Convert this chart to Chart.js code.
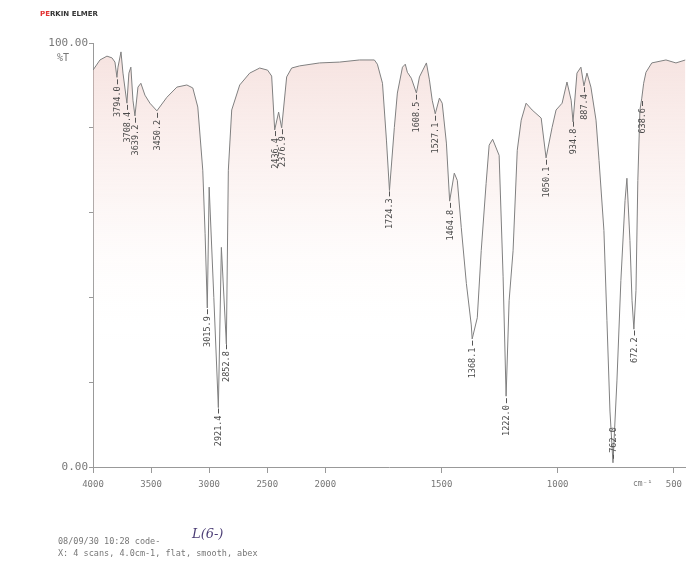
<!DOCTYPE html>
<html lang="en">
<head>
  <meta charset="UTF-8">
  <title>IR spectrum</title>
  <style>
    body { margin: 0; background: #fff; }
    #spec { display: block; }
  </style>
  <script src="https://cdn.jsdelivr.net/npm/chart.js"></script>
</head>
<body>
<canvas id="spec" width="688" height="562"></canvas>
<script>
  // spectrum: wavenumber (cm-1) and %T
  const wavenumbers = [
    4000, 3940, 3880, 3837, 3811, 3794, 3785, 3759, 3742, 3708, 3691, 3674, 3656, 3639,
    3613, 3588, 3553, 3510, 3450, 3364, 3278, 3192, 3141, 3098, 3055, 3035, 3016, 3000,
    2960, 2921, 2895, 2852, 2835, 2806, 2737, 2651, 2565, 2497, 2462, 2436, 2402, 2376,
    2333, 2290, 2222, 2050, 1939, 1853, 1789, 1776, 1754, 1737, 1724, 1703, 1690, 1668,
    1656, 1647, 1630, 1608, 1595, 1565, 1552, 1540, 1527, 1509, 1497, 1479, 1465, 1445,
    1432, 1415, 1393, 1372, 1368, 1346, 1329, 1308, 1295, 1280, 1252, 1235, 1222, 1209,
    1192, 1174, 1157, 1136, 1110, 1071, 1050, 1024, 1007, 981, 960, 942, 934, 917,
    900, 887, 874, 857, 835, 822, 801, 788, 775, 762, 745, 728, 710, 702,
    689, 680, 672, 663, 655, 646, 638, 630, 620, 595, 534, 491, 450
  ];
  const transmittance = [
    93.6, 96.0, 96.9, 96.5, 95.5, 91.9, 94.3, 97.9, 92.9, 85.8, 92.9, 94.3, 86.5, 82.8,
    89.6, 90.5, 87.7, 85.8, 84.0, 87.2, 89.6, 90.1, 89.4, 84.9, 70.0, 55.0, 37.5, 66.0,
    40.0, 14.0, 51.8, 29.0, 70.0, 84.2, 90.1, 92.9, 94.1, 93.6, 92.2, 79.5, 83.7, 80.0,
    92.0, 94.1, 94.6, 95.3, 95.5, 96.0, 96.0, 95.0, 90.5, 77.1, 65.2, 80.1, 88.2, 94.3,
    95.0, 93.1, 91.7, 88.2, 92.0, 95.3, 91.3, 86.5, 83.3, 87.0, 85.8, 76.4, 62.7, 69.3,
    67.6, 56.5, 43.3, 33.5, 30.2, 35.2, 51.1, 66.9, 75.9, 77.3, 73.5, 45.0, 16.7, 39.2,
    51.0, 74.7, 81.8, 85.8, 84.2, 82.3, 72.9, 80.1, 84.2, 85.8, 90.8, 86.5, 81.4, 92.9,
    94.3, 89.9, 92.9, 89.6, 81.8, 72.3, 55.8, 34.5, 13.2, 1.0, 20.3, 44.0, 62.9, 68.1,
    53.4, 39.2, 32.5, 41.6, 67.6, 84.2, 87.0, 90.5, 93.1, 95.3, 96.0, 95.3, 96.0
  ];
  // peak positions printed under the bands
  const peakLabels = [
    3794.0, 3708.4, 3639.2, 3450.2, 3015.9, 2921.4, 2852.8, 2436.4, 2376.9, 1724.3, 1608.5,
    1527.1, 1464.8, 1368.1, 1222.0, 1050.1, 934.8, 887.4, 762.0, 672.2, 638.6
  ];
  const xTicks = [4000, 3500, 3000, 2500, 2000, 1500, 1000, 500];
  const yTicks = [0, 20, 40, 60, 80, 100];

  // printout has a 2x scale expansion below 2000 cm-1
  function toU(w) { return w >= 2000 ? 4000 - w : 2000 + 2 * (2000 - w); }
  function fromU(u) { return u <= 2000 ? 4000 - u : 2000 - (u - 2000) / 2; }

  function valueAt(w) {
    for (let i = 0; i < wavenumbers.length - 1; i++) {
      const a = wavenumbers[i], b = wavenumbers[i + 1];
      if (w <= a && w >= b) {
        const t = (a - w) / (a - b);
        return transmittance[i] + t * (transmittance[i + 1] - transmittance[i]);
      }
    }
    return transmittance[transmittance.length - 1];
  }

  const mono = '"DejaVu Sans Mono", "Liberation Mono", monospace';

  const decorations = {
    id: 'decorations',
    afterDraw(chart) {
      const c = chart.ctx, xs = chart.scales.x, ys = chart.scales.y;
      c.save();

      // peak labels
      c.fillStyle = '#4a4a4a';
      c.strokeStyle = '#555';
      c.lineWidth = 1;
      c.font = '8.5px ' + mono;
      c.textBaseline = 'middle';
      peakLabels.forEach(p => {
        const px = Math.round(xs.getPixelForValue(toU(p))) + 0.5;
        const t = valueAt(p);
        const py = ys.getPixelForValue(t);
        const txt = p.toFixed(1);
        c.save();
        if (t < 5) {
          c.beginPath(); c.moveTo(px, py - 4); c.lineTo(px, py - 8); c.stroke();
          c.translate(px, py - 10);
          c.rotate(-Math.PI / 2);
          c.textAlign = 'left';
        } else {
          c.beginPath(); c.moveTo(px, py + 2); c.lineTo(px, py + 7); c.stroke();
          c.translate(px, py + 9);
          c.rotate(-Math.PI / 2);
          c.textAlign = 'right';
        }
        c.fillText(txt, 0, 0);
        c.restore();
      });

      // axis unit texts
      c.fillStyle = '#777';
      c.font = '10px ' + mono;
      c.textAlign = 'left';
      c.textBaseline = 'middle';
      c.fillText('%T', 57, 58);
      c.font = '8px ' + mono;
      c.fillText('cm\u207B\u00B9', 633, 484);

      // maker mark
      c.font = 'bold 7px "DejaVu Sans", sans-serif';
      c.fillStyle = '#e23030';
      c.fillText('PE', 40, 14);
      const w = c.measureText('PE').width;
      c.fillStyle = '#333';
      c.fillText('RKIN ELMER', 40 + w, 14);

      // footer
      c.fillStyle = '#777';
      c.font = '8.5px ' + mono;
      c.fillText('08/09/30 10:28 code-', 58, 542);
      c.fillText('X: 4 scans, 4.0cm-1, flat, smooth, abex', 58, 554);
      c.fillStyle = '#4b3d75';
      c.font = 'italic 13px "DejaVu Serif", serif';
      c.fillText('L(6-)', 192, 535);

      c.restore();
    }
  };

  const points = wavenumbers.map((w, i) => ({ x: toU(w), y: transmittance[i] }));

  new Chart(document.getElementById('spec'), {
    type: 'line',
    data: {
      datasets: [{
        data: points,
        borderColor: '#808080',
        borderWidth: 1,
        pointRadius: 0,
        tension: 0,
        fill: 'start',
        backgroundColor: (context) => {
          const area = context.chart.chartArea;
          if (!area) return 'rgba(0,0,0,0)';
          const g = context.chart.ctx.createLinearGradient(0, area.top, 0, area.bottom);
          g.addColorStop(0, 'rgba(236, 196, 190, 0.5)');
          g.addColorStop(0.35, 'rgba(245, 218, 214, 0.28)');
          g.addColorStop(0.7, 'rgba(255, 255, 255, 0)');
          return g;
        }
      }]
    },
    options: {
      responsive: false,
      animation: false,
      layout: { padding: { left: 0, right: 1, top: 43, bottom: 0 } },
      plugins: { legend: { display: false }, tooltip: { enabled: false } },
      scales: {
        x: {
          type: 'linear',
          min: 0,
          max: toU(450),
          afterFit: (s) => { s.height = 95; },
          afterBuildTicks: (s) => { s.ticks = xTicks.map(w => ({ value: toU(w) })); },
          ticks: {
            autoSkip: false,
            maxRotation: 0,
            padding: 6,
            color: '#777',
            font: { family: mono, size: 9 },
            callback: (v) => String(Math.round(fromU(v)))
          },
          grid: { drawOnChartArea: false, tickLength: 6, color: '#999' },
          border: { color: '#999' }
        },
        y: {
          min: 0,
          max: 100,
          afterFit: (s) => { s.width = 93; },
          afterBuildTicks: (s) => { s.ticks = yTicks.map(v => ({ value: v })); },
          ticks: {
            padding: 1,
            color: '#777',
            font: { family: mono, size: 11 },
            callback: (v) => v === 100 ? '100.00' : (v === 0 ? '0.00' : '')
          },
          grid: { drawOnChartArea: false, tickLength: 4, color: '#999' },
          border: { color: '#999' }
        }
      }
    },
    plugins: [decorations]
  });
</script>
</body>
</html>
